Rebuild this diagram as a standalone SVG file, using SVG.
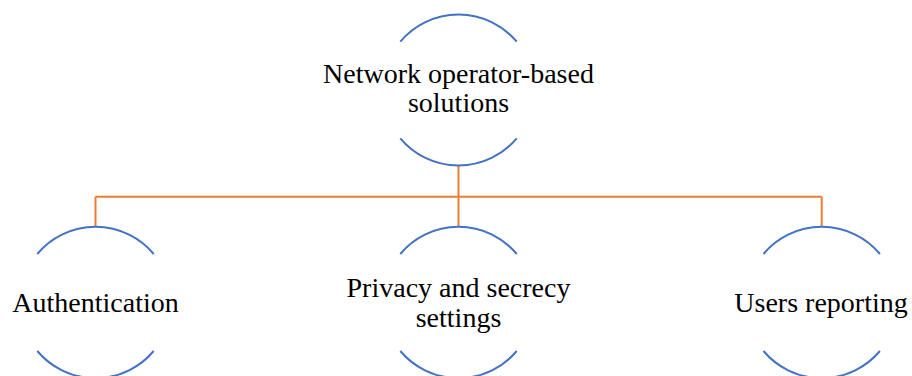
<svg xmlns="http://www.w3.org/2000/svg" width="912" height="376" viewBox="0 0 912 376">
  <style>
    .arc { fill: none; stroke: #4472C4; stroke-width: 2; }
    .link { fill: none; stroke: #ED7D31; stroke-width: 2; }
    .label { font-family: "Liberation Serif", "Times New Roman", serif; font-size: 28px; fill: #000; text-anchor: middle; }
  </style>
  <rect width="912" height="376" fill="#fff"/>

  <!-- connectors -->
  <g id="connectors">
    <path class="link" d="M458.5 166 V196.7"/>
    <path class="link" d="M95.5 196.7 H821.7"/>
    <path class="link" d="M95.5 196.7 V227"/>
    <path class="link" d="M458.5 196.7 V227"/>
    <path class="link" d="M821.7 196.7 V227"/>
  </g>

  <!-- root node: circle r=76, only top and bottom arcs drawn -->
  <g id="node-root">
    <path class="arc" d="M400.3 41.7 A76 76 0 0 1 516.7 41.7"/>
    <path class="arc" d="M400.3 138.3 A76 76 0 0 0 516.7 138.3"/>
    <text class="label" x="458.5" y="83">Network operator-based</text>
    <text class="label" x="458.5" y="112">solutions</text>
  </g>

  <g id="node-authentication">
    <path class="arc" d="M37.3 254 A76 76 0 0 1 153.7 254"/>
    <path class="arc" d="M37.3 351 A76 76 0 0 0 153.7 351"/>
    <text class="label" x="95.5" y="311.7">Authentication</text>
  </g>

  <g id="node-privacy">
    <path class="arc" d="M400.3 254 A76 76 0 0 1 516.7 254"/>
    <path class="arc" d="M400.3 351 A76 76 0 0 0 516.7 351"/>
    <text class="label" x="458.5" y="297.3">Privacy and secrecy</text>
    <text class="label" x="458.5" y="326.5">settings</text>
  </g>

  <g id="node-users-reporting">
    <path class="arc" d="M763.5 254 A76 76 0 0 1 879.9 254"/>
    <path class="arc" d="M763.5 351 A76 76 0 0 0 879.9 351"/>
    <text class="label" x="821" y="311.7">Users reporting</text>
  </g>
</svg>
